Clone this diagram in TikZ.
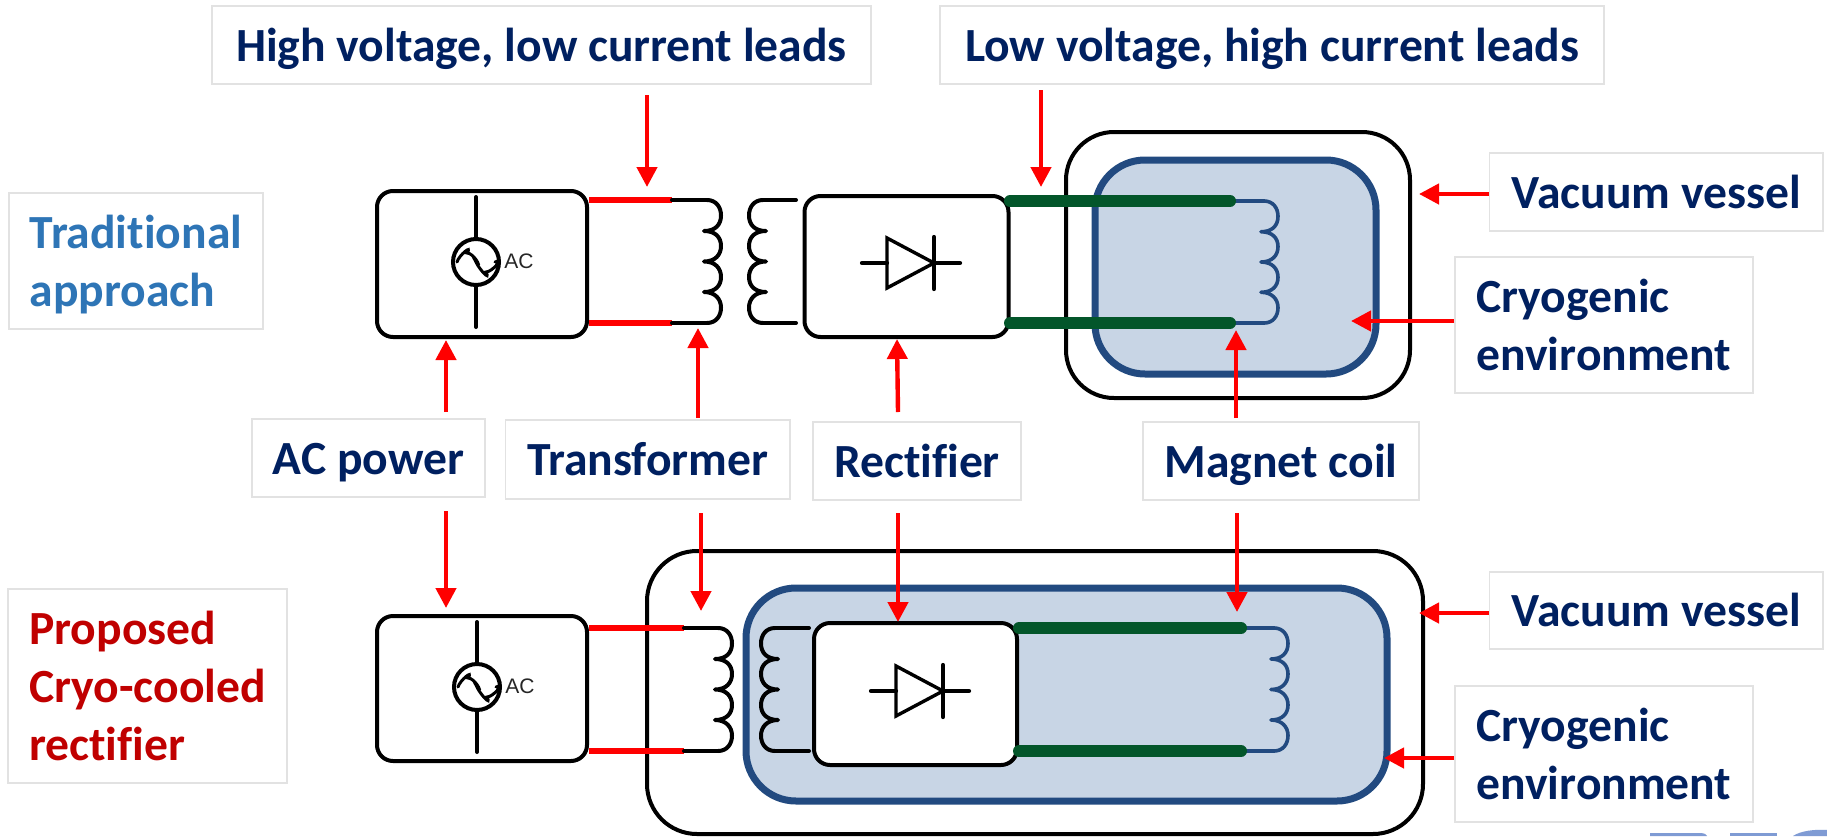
\documentclass[tikz,border=0pt]{standalone}
\usepackage{fontspec}
\setmainfont[Ligatures=NoCommon]{Carlito}
\newfontfamily\arialf{Liberation Sans}
\usetikzlibrary{arrows.meta}
\definecolor{navy}{HTML}{002060}
\definecolor{tradblue}{HTML}{2E75B6}
\definecolor{propred}{HTML}{C00000}
\definecolor{edgegray}{HTML}{E2E2E2}
\definecolor{cryofill}{HTML}{C8D5E5}
\definecolor{cryoedge}{HTML}{224A80}
\definecolor{leadgreen}{HTML}{03562A}
\definecolor{logoblue}{HTML}{7F9BD4}
\tikzset{
  lbl/.style={draw=edgegray,line width=0.9pt,fill=white,inner sep=0pt,align=left,
    font=\fontsize{23.8}{29}\selectfont\bfseries},
  lblone/.style={lbl,text height=16pt,text depth=0pt},
  blk/.style={draw=black,line width=2pt,fill=white,rounded corners=8pt,inner sep=0pt},
  vessel/.style={draw=black,line width=2pt,fill=white,inner sep=0pt},
  cryo/.style={draw=cryoedge,line width=3.5pt,fill=cryofill,inner sep=0pt},
  ptr/.style={draw=red,line width=2.2pt,-{Triangle[width=10pt,length=10pt]}},
  redlead/.style={draw=red,line width=2.6pt},
  greenlead/.style={draw=leadgreen,line width=6pt,line cap=round},
  wire/.style={draw=black,line width=2pt,line cap=round,line join=round},
  bluewire/.style={draw=cryoedge,line width=1.8pt,line cap=round,line join=round},
  coilshape/.pic={
    \draw[pic actions] (0,0) .. controls (9,0) and (14,7) .. (14,15.5)
      .. controls (14,25) and (8,31) .. (-3,31)
      .. controls (8,31) and (14,37) .. (14,46)
      .. controls (14,55) and (8,61.5) .. (-3,61.5)
      .. controls (8,61.5) and (14,68) .. (14,77)
      .. controls (14,86) and (8,92) .. (-3,92)
      .. controls (8,92) and (14,99) .. (14,107.5)
      .. controls (14,116) and (9,123) .. (0,123);
  }
}
\newcommand{\PlaceBox}[7]{%
  \pgfmathsetmacro\lbx{(#3+#5)/2}\pgfmathsetmacro\lby{(#4+#6)/2}%
  \pgfmathsetmacro\lbw{(#5-#3)*0.5}\pgfmathsetmacro\lbh{(#6-#4)*0.5}%
  \node[#1,minimum width=\lbw pt,minimum height=\lbh pt] (#2) at (\lbx,\lby) {#7};}
\newcommand{\ACSource}[3]{% name, x, y
  \node[circle,draw=black,line width=2pt,fill=white,minimum size=23pt,inner sep=0pt] (#1c) at (#2,#3) {};
  \draw[wire] (#1c.north) -- ++(0,-40);
  \draw[wire] (#1c.south) -- ++(0,40);
  \draw[black,line width=1.5pt,line cap=round] (#1c.center) ++(-19,0)
    .. controls ++(2,-7) and ++(6,-9) .. ++(10,-9)
    .. controls ++(7,0) and ++(6,7) .. ++(9,9)
    .. controls ++(3,7) and ++(5,10) .. ++(10,10)
    .. controls ++(6,0) and ++(9,-4) .. ++(9,-10);
  \node[font=\arialf\fontsize{10.5}{12}\selectfont,text=black!85,inner sep=0pt] (#1l) at ([xshift=21.5pt,yshift=0.5pt]#1c.center) {AC};
}
\newcommand{\Diode}[3]{% name, x of triangle base, y
  \coordinate (#1a) at (#2,#3);
  \coordinate (#1k) at ([xshift=23.5pt]#1a);
  \draw[black,line width=1.7pt,line join=miter] ([yshift=12.5pt]#1a) -- (#1k) -- ([yshift=-12.5pt]#1a) -- cycle;
  \draw[black,line width=2.1pt,line cap=round] ([xshift=-12.5pt]#1a) -- (#1a);
  \draw[black,line width=2.1pt,line cap=round] (#1k) -- ([xshift=13pt]#1k);
  \draw[black,line width=2.1pt,line cap=round] ([yshift=13pt]#1k) -- ([yshift=-13pt]#1k);
}
\begin{document}
\begin{tikzpicture}[x=0.5pt,y=-0.5pt]
\useasboundingbox (0,0) rectangle (1827,836);
\fill[white] (0,0) rectangle (1827,836);
% logo remnants at the lower right
\fill[logoblue] (1650,836) -- (1650,833) -- (1700,833) .. controls (1705,833) and (1707,835) .. (1707,836) -- cycle;
\fill[logoblue] (1730,836) rectangle (1777,833);
\fill[logoblue] (1793,836) .. controls (1800,831) and (1815,829) .. (1827,830) -- (1827,836) -- cycle;

% ---------- top diagram
\PlaceBox{vessel,rounded corners=24pt}{vesA}{1066}{132}{1410}{398}{}
\PlaceBox{cryo,rounded corners=25pt}{cryA}{1095}{160}{1376}{374}{}
\PlaceBox{blk}{acA}{377}{191}{587}{337}{}
\PlaceBox{blk}{rcA}{804.5}{196}{1008.5}{337}{}
\ACSource{sA}{476}{262}
\Diode{dA}{887}{263}
% primary
\coordinate (pA1) at (672,200); \coordinate (pA2) at (672,323);
\coordinate (kA1) at (707,200); \coordinate (kA2) at (707,323);
\draw[redlead] (acA.east |- pA1) -- (pA1);
\draw[redlead] (acA.east |- pA2) -- (pA2);
\draw[wire] (pA1) -- (kA1);
\draw[wire] (pA2) -- (kA2);
\pic[wire] at (kA1) {coilshape};
% secondary
\coordinate (sA1) at (796,200); \coordinate (sA2) at (796,323);
\coordinate (tA1) at (763,200); \coordinate (tA2) at (763,323);
\draw[wire] (sA1) -- (tA1);
\draw[wire] (sA2) -- (tA2);
\pic[wire,xscale=-1] at (tA1) {coilshape};
% magnet coil
\coordinate (gA1) at (1230,201); \coordinate (gA2) at (1230,323);
\coordinate (mA1) at (1264,201); \coordinate (mA2) at (1264,323);
\draw[bluewire] (gA1) -- (mA1);
\draw[bluewire] (gA2) -- (mA2);
\pic[bluewire,yscale=0.992] at (mA1) {coilshape};
\coordinate (rA1) at (1010,201); \coordinate (rA2) at (1010,323);
\draw[greenlead] (rA1) -- (gA1);
\draw[greenlead] (rA2) -- (gA2);

% ---------- bottom diagram
\PlaceBox{vessel,rounded corners=25pt}{vesB}{647}{551}{1423}{834}{}
\PlaceBox{cryo,rounded corners=25pt}{cryB}{746}{588}{1387}{801}{}
\PlaceBox{blk}{acB}{377}{616}{587}{761}{}
\PlaceBox{blk}{rcB}{814}{623}{1017}{765}{}
\ACSource{sB}{477}{687}
\Diode{dB}{896}{691}
\coordinate (pB1) at (684,628); \coordinate (pB2) at (684,751);
\coordinate (kB1) at (718,628); \coordinate (kB2) at (718,751);
\draw[redlead] (acB.east |- pB1) -- (pB1);
\draw[redlead] (acB.east |- pB2) -- (pB2);
\draw[wire] (pB1) -- (kB1);
\draw[wire] (pB2) -- (kB2);
\pic[wire] at (kB1) {coilshape};
\coordinate (sB1) at (809,628); \coordinate (sB2) at (809,751);
\coordinate (tB1) at (775,628); \coordinate (tB2) at (775,751);
\draw[wire] (sB1) -- (tB1);
\draw[wire] (sB2) -- (tB2);
\pic[wire,xscale=-1] at (tB1) {coilshape};
\coordinate (gB1) at (1241,628); \coordinate (gB2) at (1241,751);
\coordinate (mB1) at (1274,628); \coordinate (mB2) at (1274,751);
\draw[bluewire] (gB1) -- (mB1);
\draw[bluewire] (gB2) -- (mB2);
\pic[bluewire] at (mB1) {coilshape};
\coordinate (rB1) at (1019,628); \coordinate (rB2) at (1019,751);
\draw[greenlead] (rB1) -- (gB1);
\draw[greenlead] (rB2) -- (gB2);

% ---------- labels
\PlaceBox{lblone,text=navy}{hv}{212}{6}{871}{84}{High voltage, low current leads}
\PlaceBox{lblone,text=navy}{lv}{940}{6}{1604}{84}{Low voltage, high current leads}
\PlaceBox{lbl,text=tradblue}{trad}{9}{193}{263}{329}{\rule{0pt}{20pt}Traditional\\approach}
\PlaceBox{lbl,text=propred}{prop}{8}{589}{287}{783}{Proposed\\Cryo-cooled\\rectifier}
\PlaceBox{lblone,text=navy}{acp}{252}{419}{485}{497}{AC power}
\PlaceBox{lblone,text=navy}{trf}{505.5}{420}{790}{499}{Transformer}
\PlaceBox{lblone,text=navy}{rct}{813}{422}{1021}{500}{Rectifier}
\PlaceBox{lblone,text=navy}{mag}{1143}{422}{1419}{500}{Magnet coil}
\PlaceBox{lblone,text=navy}{vvA}{1489.5}{153}{1823}{231}{Vacuum vessel}
\PlaceBox{lbl,text=navy}{ceA}{1455}{257}{1753}{393}{Cryogenic\\environment}
\PlaceBox{lblone,text=navy}{vvB}{1489.5}{572}{1823}{649}{Vacuum vessel}
\PlaceBox{lbl,text=navy}{ceB}{1455}{686}{1753}{822}{Cryogenic\\environment}

% ---------- pointers
\coordinate (a1s) at (647,95);   \coordinate (a1t) at (647,187);
\coordinate (a2s) at (1041,90);  \coordinate (a2t) at (1041,187);
\coordinate (a3s) at (446,412);  \coordinate (a3t) at (446,340);
\coordinate (a4s) at (698,418);  \coordinate (a4t) at (698,328);
\coordinate (a5s) at (898,412);  \coordinate (a5t) at (897,339);
\coordinate (a6s) at (1236,418); \coordinate (a6t) at (1236,330);
\coordinate (a7s) at (446,511);  \coordinate (a7t) at (446,608);
\coordinate (a8s) at (701,513);  \coordinate (a8t) at (701,611);
\coordinate (a9s) at (898,513);  \coordinate (a9t) at (898,622);
\coordinate (a10s) at (1237,513); \coordinate (a10t) at (1237,612);
\coordinate (a11t) at (1419,194);
\coordinate (a12t) at (1351,321);
\coordinate (a13t) at (1419,613);
\coordinate (a14t) at (1384,758);
\foreach \k in {1,...,10} {\draw[ptr] (a\k s) -- (a\k t);}
\draw[ptr] (vvA.west |- a11t) -- (a11t);
\draw[ptr] (ceA.west |- a12t) -- (a12t);
\draw[ptr] (vvB.west |- a13t) -- (a13t);
\draw[ptr] (ceB.west |- a14t) -- (a14t);
\end{tikzpicture}
\end{document}
